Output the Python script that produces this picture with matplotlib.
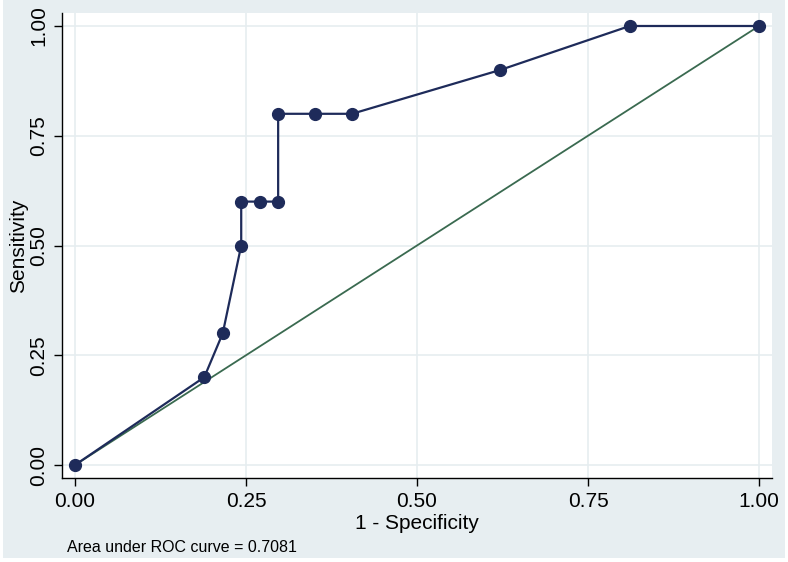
import matplotlib
matplotlib.use("Agg")
import matplotlib.pyplot as plt
from matplotlib.patches import Rectangle

# Data (1 - specificity, sensitivity)
fpr = [0.0, 0.189, 0.216, 0.243, 0.243, 0.270, 0.297, 0.297, 0.351, 0.405, 0.622, 0.811, 1.0]
tpr = [0.0, 0.2, 0.3, 0.5, 0.6, 0.6, 0.6, 0.8, 0.8, 0.8, 0.9, 1.0, 1.0]
ref = [0.0, 1.0]
ticks = [0.0, 0.25, 0.5, 0.75, 1.0]
tick_labels = ["0.00", "0.25", "0.50", "0.75", "1.00"]
auc_text = "Area under ROC curve = 0.7081"

W, H = 788, 562
plt.rcParams['font.family'] = ['Liberation Sans', 'DejaVu Sans']
fig = plt.figure(figsize=(W / 100, H / 100), dpi=100, facecolor="white")

# bluish-gray graph region
fig.patches.append(Rectangle((3 / W, 4 / H), 782 / W, 1 - 4 / H, transform=fig.transFigure,
                             facecolor="#e7eef1", edgecolor="none", zorder=-10))

ax = fig.add_axes([62 / W, 1 - 478 / H, 710 / W, 465 / H])
ax.set_zorder(5)
ax.set_facecolor("white")

navy = "#1e2b5a"
green = "#3a6a50"

ax.plot(fpr, tpr, color=navy, lw=1.6, marker="o", ms=8.5, zorder=3, clip_on=False)
ax.plot(ref, ref, color=green, lw=1.3, zorder=2)

ax.set_xlim(-0.019, 1.019)
ax.set_ylim(-0.0296, 1.0296)
ax.set_xticks(ticks)
ax.set_xticklabels(tick_labels)
ax.set_yticks(ticks)
ax.set_yticklabels(tick_labels, rotation=90, va="center")
ax.grid(True, color="#e6edf0", lw=1.2)
ax.set_axisbelow(True)
for s in ["top", "right"]:
    ax.spines[s].set_visible(False)
for s in ["left", "bottom"]:
    ax.spines[s].set_color("black")
    ax.spines[s].set_linewidth(1.0)
ax.tick_params(axis="both", direction="out", length=6, width=1.0, labelsize=15, pad=4)
ax.set_xlabel("1 - Specificity", fontsize=15, labelpad=2)
ax.set_ylabel("Sensitivity", fontsize=15, labelpad=1)

fig.text(67 / W, 1 - 548 / H, auc_text, fontsize=11.5, va="center", ha="left")

fig.savefig("out.png", dpi=100, facecolor=fig.get_facecolor())
